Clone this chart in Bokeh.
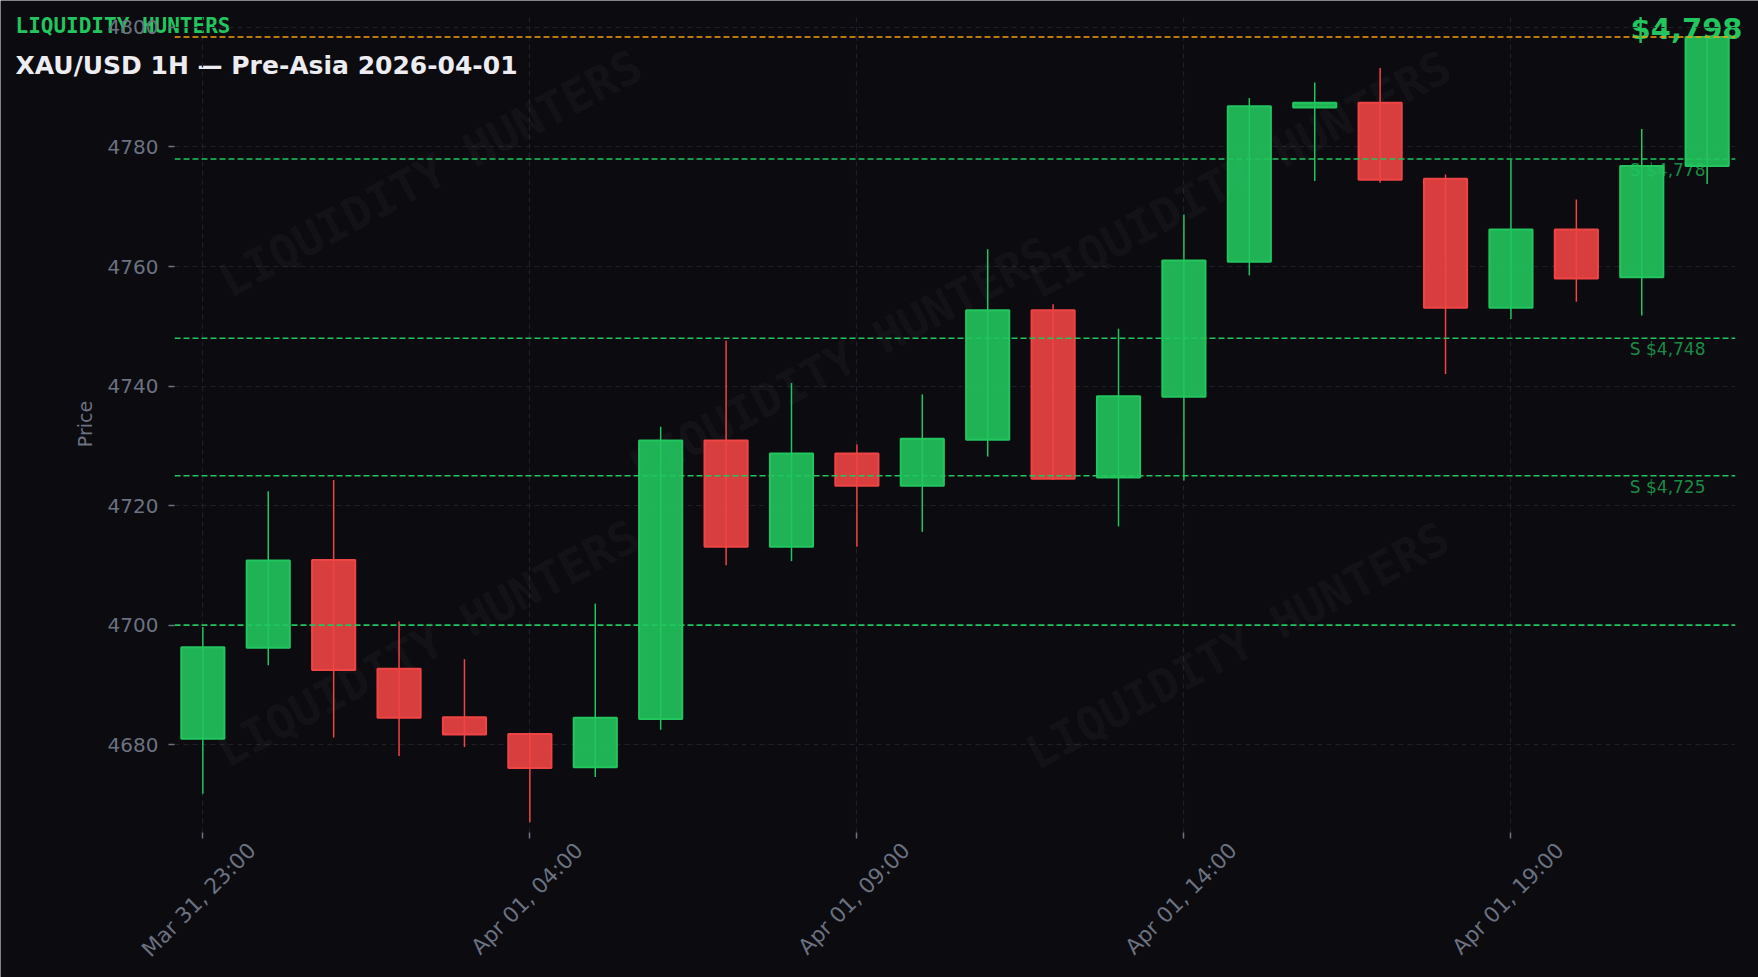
import pandas as pd
from bokeh.plotting import figure
from bokeh.models import (Span, Label, FixedTicker, ColumnDataSource,
                          Range1d, GridBox, Column)
from bokeh.embed import file_html
from bokeh.resources import INLINE

# ---------------- data ----------------
times = pd.date_range("2026-03-31 23:00", periods=24, freq="h")
opens = [4681.0, 4696.2, 4710.9, 4692.7, 4684.6, 4681.8, 4676.2, 4684.3,
         4730.9, 4713.1, 4728.7, 4723.3, 4731.0, 4752.7, 4724.7, 4738.2,
         4760.8, 4786.6, 4787.4, 4774.7, 4753.1, 4766.2, 4758.2, 4776.8]
highs = [4699.7, 4722.4, 4724.3, 4700.6, 4694.3, 4682.0, 4703.6, 4733.2,
         4747.6, 4740.5, 4730.2, 4738.6, 4762.9, 4753.7, 4749.6, 4768.7,
         4788.2, 4790.8, 4793.2, 4775.4, 4777.9, 4771.2, 4783.0, 4798.6]
lows = [4671.8, 4693.3, 4681.2, 4678.1, 4679.6, 4667.0, 4674.6, 4682.5,
        4710.0, 4710.7, 4713.1, 4715.6, 4728.2, 4724.3, 4716.5, 4724.2,
        4758.5, 4774.3, 4774.0, 4742.0, 4751.2, 4754.1, 4751.8, 4773.8]
closes = [4696.3, 4710.8, 4692.5, 4684.5, 4681.7, 4676.1, 4684.5, 4730.9,
          4713.1, 4728.7, 4723.3, 4731.2, 4752.7, 4724.5, 4738.3, 4761.0,
          4786.8, 4787.4, 4774.5, 4753.1, 4766.2, 4758.0, 4776.8, 4798.4]

support_levels = [4778, 4748, 4725]
support_labels = ["S $4,778", "S $4,748", "S $4,725"]
round_levels = [4700]
current_price = 4798.4
current_label = "$4,798"
y_ticks = [4680, 4700, 4720, 4740, 4760, 4780, 4800]
x_tick_times = times[::5]

brand = "LIQUIDITY HUNTERS"
chart_title = "XAU/USD 1H \u2014 Pre-Asia 2026-04-01"

# ---------------- style ----------------
W, H = 1758, 977
BG = "#0b0b10"
UP = "#22c55e"
DOWN = "#ef4444"
GRID = "#20202a"
MUTED = "#6b7280"
ORANGE = "#f59e0b"
FONT = "DejaVu Sans"

hour_ms = 3600 * 1000
pad = pd.Timedelta(minutes=26)
label_shift_ms = 45 * 60 * 1000  # centre rotated tick labels on their ticks

colors = [UP if c >= o else DOWN for o, c in zip(opens, closes)]
src = ColumnDataSource(dict(
    t=times, o=opens, h=highs, l=lows, c=closes,
    top=[max(o, c) for o, c in zip(opens, closes)],
    bot=[min(o, c) for o, c in zip(opens, closes)],
    color=colors,
))

# ---------------- main chart (transparent, drawn on top) ----------------
p = figure(width=W, height=H, x_axis_type="datetime",
           output_backend="svg", toolbar_location=None, title=None,
           x_range=Range1d(times[0] - pad, times[-1] + pad),
           y_range=Range1d(4665.3, 4802.0),
           min_border_left=174, min_border_right=23,
           min_border_top=15, min_border_bottom=145,
           background_fill_alpha=0, border_fill_alpha=0,
           outline_line_color=None)

# grid
tick_ms = [t.value // 10**6 for t in x_tick_times]
p.xgrid.ticker = FixedTicker(ticks=tick_ms)
for g in (p.xgrid, p.ygrid):
    g.grid_line_color = GRID
    g.grid_line_dash = "5 4"
    g.grid_line_width = 1.2

# axes
p.yaxis.ticker = FixedTicker(ticks=y_ticks)
fmt = "%b %d, %H:%M"
lab_ticks = [m + label_shift_ms for m in tick_ms]
p.xaxis.ticker = FixedTicker(ticks=lab_ticks, minor_ticks=tick_ms)
p.xaxis.major_label_overrides = {m: t.strftime(fmt) for m, t in zip(lab_ticks, x_tick_times)}
for ax in (p.xaxis, p.yaxis):
    ax.axis_line_color = None
    ax.major_tick_line_color = MUTED
    ax.major_tick_line_width = 1.5
    ax.major_tick_out = 6
    ax.major_tick_in = 0
    ax.minor_tick_line_color = None
    ax.major_label_text_color = MUTED
    ax.major_label_text_font = FONT
    ax.major_label_text_font_size = "20px"
    ax.major_label_standoff = 10
p.xaxis.major_tick_line_color = None
p.xaxis.minor_tick_line_color = MUTED
p.xaxis.minor_tick_line_width = 1.5
p.xaxis.minor_tick_out = 6
p.xaxis.minor_tick_in = 0
p.xaxis.major_label_orientation = 0.785398
p.xaxis.major_label_standoff = 8
p.xaxis.major_label_text_font_size = "21.5px"

p.yaxis.axis_label = "Price"
p.yaxis.axis_label_text_color = MUTED
p.yaxis.axis_label_text_font = FONT
p.yaxis.axis_label_text_font_style = "normal"
p.yaxis.axis_label_text_font_size = "19px"
p.yaxis.axis_label_standoff = 9

# watermarks
wm_pos = [(256, 659), (1065, 658), (666, 472), (253, 189), (1063, 187)]
for (sx, sy) in wm_pos:
    p.add_layout(Label(x=sx, y=sy, x_units="screen", y_units="screen",
                       text=brand, angle=0.49, text_align="center",
                       text_baseline="middle", text_font="DejaVu Sans Mono",
                       text_font_style="bold", text_font_size="46px",
                       text_color="#ffffff", text_alpha=0.05, level="underlay"))

# candles
w = 0.66 * hour_ms
p.segment(x0="t", y0="l", x1="t", y1="h", source=src, line_color="color", line_width=1.5)
p.vbar(x="t", width=w, top="top", bottom="bot", source=src,
       fill_color="color", fill_alpha=0.9, line_color="color", line_width=2)

# levels
for lv in round_levels + support_levels:
    p.add_layout(Span(location=lv, dimension="width", line_color=UP,
                      line_dash="6 3", line_width=1.6))
p.add_layout(Span(location=current_price, dimension="width", line_color=ORANGE,
                  line_dash="6 3", line_width=1.6))
for lv, txt in zip(support_levels, support_labels):
    p.add_layout(Label(x=1531, y=lv, x_units="screen", y_offset=-11, text=txt,
                       text_align="right", text_baseline="alphabetic",
                       text_font=FONT, text_font_size="17px",
                       text_color=UP, text_alpha=0.7))

# ---------------- background layer with the header texts ----------------
bg = figure(width=W, height=H, output_backend="svg", toolbar_location=None, title=None,
            x_range=Range1d(0, W), y_range=Range1d(0, H),
            x_axis_location=None, y_axis_location=None,
            min_border=0, min_border_left=0, min_border_right=0,
            min_border_top=0, min_border_bottom=0,
            background_fill_color=BG, border_fill_color=BG, outline_line_color=None)
bg.xgrid.visible = False
bg.ygrid.visible = False
bg.add_layout(Label(x=15, y=H - 25, x_units="screen", y_units="screen", text=brand,
                    text_align="left", text_baseline="alphabetic",
                    text_font="DejaVu Sans Mono", text_font_style="bold",
                    text_font_size="21px", text_color=UP))
bg.add_layout(Label(x=15, y=H - 65, x_units="screen", y_units="screen", text=chart_title,
                    text_align="left", text_baseline="alphabetic",
                    text_font=FONT, text_font_style="bold",
                    text_font_size="25px", text_color="#ececf1"))
bg.add_layout(Label(x=1742, y=H - 28, x_units="screen", y_units="screen", text=current_label,
                    text_align="right", text_baseline="alphabetic",
                    text_font=FONT, text_font_style="bold",
                    text_font_size="29px", text_color=UP))

layout = GridBox(children=[(Column(bg), 0, 0), (Column(p), 0, 0)])

open("out.html", "w").write(file_html(layout, INLINE))
